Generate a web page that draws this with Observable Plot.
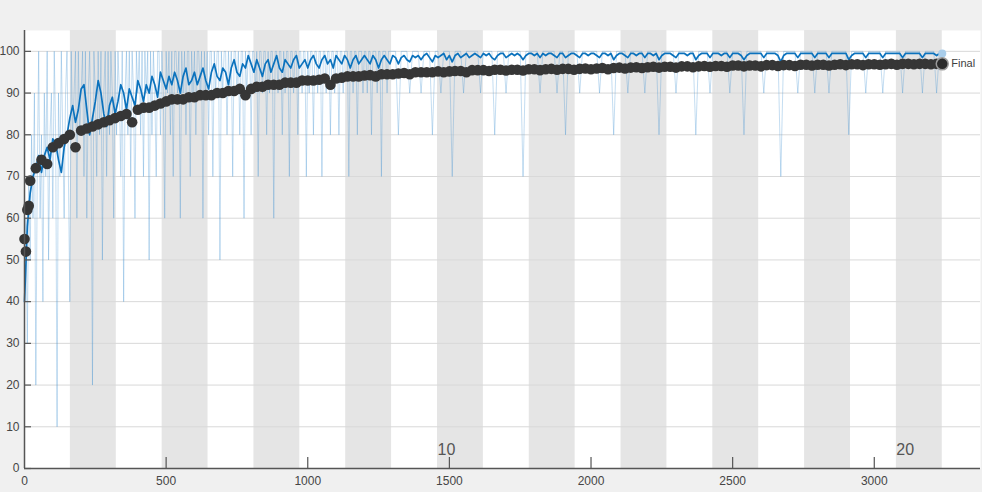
<!DOCTYPE html>
<html><head><meta charset="utf-8">
<script src="https://cdn.jsdelivr.net/npm/d3@7"></script>
<script src="https://cdn.jsdelivr.net/npm/@observablehq/plot@0.6"></script>
<style>
html,body{margin:0;padding:0;background:#f0f0f0;}
#chart{width:982px;height:492px;overflow:hidden;}
</style></head><body><div id="chart"></div>
<script>
// ---- data ----
const itersPerEpoch = 162;
const numEpochs = 20;
const epochLabels = [10, 20];
const xTicks = [0, 500, 1000, 1500, 2000, 2500, 3000];
const yTicks = [0, 10, 20, 30, 40, 50, 60, 70, 80, 90, 100];

// raw mini-batch accuracy, every 5 iterations from 0 to 1295
const rawEarlyStep = 5;
const rawEarly = [
 40,60,30,70,50,80,60,90,20,70,100,60,80,40,90,70,100,50,80,90,
 60,100,80,10,90,70,100,80,60,90,100,70,40,100,80,90,100,60,100,80,
 90,100,70,100,60,90,100,80,20,100,90,70,100,80,100,50,90,100,70,100,
 80,100,90,60,100,80,100,90,70,100,40,90,100,80,100,70,100,90,60,100,
 90,100,80,100,70,100,90,100,50,100,80,100,90,70,100,100,80,100,90,60,
 100,90,100,80,100,70,100,100,90,100,60,100,90,100,80,100,100,70,100,90,
 100,80,100,100,90,100,60,100,90,100,80,100,100,70,100,90,100,100,50,100,
 90,100,100,80,100,90,100,70,100,100,90,100,80,100,100,60,100,90,100,100,
 80,100,100,90,100,70,100,100,90,100,100,80,100,90,100,100,60,100,100,90,
 100,100,80,100,90,100,100,70,100,100,90,100,100,80,100,100,90,100,100,70,
 100,90,100,100,80,100,100,90,100,100,70,100,100,90,100,100,80,100,100,90,
 100,100,80,100,100,90,100,100,100,70,100,100,90,100,100,80,100,100,100,90,
 100,100,90,100,100,80,100,100,100,90,100,100,70,100,100,100,90,100,100,100
];
// raw mini-batch accuracy, every 10 iterations from 1300 to 3240
const rawLateStart = 1300;
const rawLateStep = 10;
const rawLate = [
 100,100,80,100,100,100,90,100,100,100,
 90,100,100,100,80,100,100,90,100,100,100,70,100,100,100,90,100,100,100,100,
 100,90,100,100,100,100,80,100,100,100,90,100,100,100,100,100,70,100,100,100,
 100,100,90,100,100,100,100,100,90,100,100,80,100,100,100,100,90,100,100,100,
 100,100,100,90,100,100,100,100,80,100,100,100,100,90,100,100,100,100,100,90,
 100,100,100,100,80,100,100,100,100,100,90,100,100,100,100,100,100,80,100,100,
 100,100,90,100,100,100,100,100,100,90,100,100,100,100,80,100,100,100,100,100,
 100,90,100,100,100,100,100,70,100,100,100,100,100,90,100,100,100,100,100,90,
 100,100,100,100,90,100,100,100,100,100,100,80,100,100,100,100,100,90,100,100,
 100,100,100,90,100,100,100,100,100,100,90,100,100,100,100,100,100,90,100,100,
 100,100,90,100,100
];

// smoothed training accuracy, every 10 iterations from 0
const smoothStep = 10;
const smoothAcc = [
 40,58,66,70,72,75,71,75,77,74,79,78,74,71,77,80,84,87,83,86,
 91,92,86,80,84,88,93,90,85,82,87,89,85,88,92,90,86,91,89,87,
 93,91,88,92,90,94,92,89,95,93,91,94,92,95,93,90,94,96,92,93,
 95,92,94,96,93,91,95,97,94,93,96,95,92,96,98,95,94,97,96,99,
 97,95,98,96,94,97,98,95,97,99,96,95,98,97,96,98,99,96,97,98,
 96,98,99,97,96,98,99,97,98,96,99,98,97,99,98,96,98,99,97,98,
 99,98,97,99,98,96,98,99,98,97,99,98.5,97,98.5,99,98,97.5,99,98.5,99,
 98,99,99.5,98.5,97.5,99,98.5,99,99.5,98,99,97.5,99,99.5,98.5,99,99.5,98.5,99,99.5,
 99,98.5,99.5,99,99.5,98.5,98,99,99.5,99.5,98.5,99,99.5,99,99.5,99,98,99,99.5,99.5,
 99,99.5,98.5,99.5,99,99.5,99.5,99,98.5,99.5,99.5,98.5,99,99.5,99.5,99,98.5,99.5,99.5,99,
 99.5,99.5,99,98.5,99.5,99.5,99,99.5,98,99,99.5,99.5,99,98.5,99.5,99.5,99,99.5,99.5,98.5,
 99.5,99.5,99,99.5,98,99,99.5,99.5,99.5,99,98.5,99.5,99.5,99.5,99,99.5,99.5,98,99,99.5,
 99.5,99.5,98.5,99.5,99.5,99.5,99,99.5,99.5,98.5,99.5,99.5,99.5,99,98,99,99.5,99.5,99.5,99.5,
 99.5,98.5,99.5,99.5,99.5,99.5,99,97.5,99,99.5,99.5,99.5,99.5,98.5,99.5,99.5,99.5,99.5,99.5,98.5,
 99.5,99.5,99.5,99.5,98.5,99.5,99.5,99.5,99.5,99.5,99.5,98,99,99.5,99.5,99.5,99.5,98.5,99.5,99.5,
 99.5,99.5,99.5,98.5,99.5,99.5,99.5,99.5,99.5,99.5,98.5,99.5,99.5,99.5,99.5,99.5,99.5,98.5,99.5,99.5,
 99.5,99.5,99,99.5,99.5
];

// validation accuracy
const valEarlyIter = [0, 5, 10, 15];
const valEarlyAcc = [55, 52, 62, 63];
const valStep = 20; // from iteration 20
const valAcc = [
 69,72,74,73,77,78,79,80,77,81,
 81.5,82,82.5,83,83.5,84,84.5,85,83,86,
 86.5,86.5,87,87.5,88,88.5,88.5,88.5,89,89,
 89.5,89.5,89.5,90,90,90.5,90.5,91,89.5,91,
 91.5,91.5,92,92,92,92.5,92.5,92.5,93,93,
 93,93.2,93.5,92,93.5,93.7,94,94,94,94.2,
 94.3,94,94.5,94.5,94.5,94.7,94.8,94.5,95,95,
 95,95,95.2,95,95.2,95.3,95.3,95,95.5,95.5,
 95.5,95.3,95.6,95.6,95.4,95.6,95.6,95.4,95.7,95.7,
 95.5,95.7,95.8,95.6,95.8,95.8,95.6,95.8,95.9,95.7,
 95.9,96,95.7,96,96.1,95.9,96.1,96.2,96,96.2,
 96.3,96.1,96.3,96.3,96.1,96.4,96.4,96.2,96.4,96.5,
 96.3,96.5,96.5,96.3,96.6,96.6,96.4,96.6,96.6,96.4,
 96.7,96.7,96.5,96.7,96.7,96.5,96.8,96.8,96.6,96.8,
 96.8,96.6,96.8,96.9,96.7,96.9,96.9,96.7,96.9,96.9,
 96.8,96.9,97,96.8,97,97,96.9,97,97,96.9,
 97,97
];
const finalIter = 3240;
const finalAcc = 97;

// ---- tables built from arrays ----
const raw = rawEarly.map((v, i) => ({iter: i * rawEarlyStep, acc: v}))
  .concat(rawLate.map((v, i) => ({iter: rawLateStart + i * rawLateStep, acc: v})));
const smooth = smoothAcc.map((v, i) => ({iter: i * smoothStep, acc: v}));
const val = valEarlyIter.map((it, i) => ({iter: it, acc: valEarlyAcc[i]}))
  .concat(valAcc.map((v, i) => ({iter: (i + 1) * valStep, acc: v})));
const bands = d3.range(2, numEpochs + 1, 2).map(k => ({x1: (k - 1) * itersPerEpoch, x2: k * itersPerEpoch}));
const labels = epochLabels.map(k => ({iter: (k - 1) * itersPerEpoch, label: String(k)}));
const finalPt = [{iter: finalIter, acc: finalAcc}];
const lastSmooth = [smooth[smooth.length - 1]];

const W = 982, H = 492, mL = 24, mR = 2, mT = 30, mB = 24;
const font = "'Liberation Sans', Arial, Helvetica, sans-serif";
const chart = Plot.plot({
  width: W, height: H,
  marginLeft: mL, marginRight: mR, marginTop: mT, marginBottom: mB,
  style: {background: "#f0f0f0", fontFamily: font, fontSize: "12px", color: "#454545", overflow: "visible"},
  x: {domain: [0, 3375]},
  y: {domain: [0, 105]},
  marks: [
    Plot.frame({fill: "white", stroke: "none"}),
    Plot.rect(bands, {x1: "x1", x2: "x2", fill: "#e5e5e5"}),
    Plot.ruleY(yTicks.slice(1), {stroke: "#d9d9d9", strokeWidth: 1}),
    Plot.line(raw, {x: "iter", y: "acc", stroke: "#3b8fd0", strokeOpacity: 0.3, strokeWidth: 1}),
    Plot.line(smooth, {x: "iter", y: "acc", stroke: "#0b72bd", strokeWidth: 1.7}),
    Plot.dot(lastSmooth, {x: "iter", y: "acc", r: 4, fill: "#a9cdea", stroke: "none"}),
    Plot.dot(val, {x: "iter", y: "acc", r: 5.3, fill: "#363636", stroke: "none"}),
    Plot.dot(finalPt, {x: "iter", y: "acc", r: 6, fill: "#2a2a2a", stroke: "#9a9a9a", strokeWidth: 1.5}),
    Plot.text(finalPt, {x: "iter", y: "acc", text: () => "Final", dx: 9, textAnchor: "start", fontSize: 11, fill: "#404040"}),
    Plot.text(labels, {x: "iter", text: "label", frameAnchor: "bottom", dy: -14, textAnchor: "start", fontSize: 16, fill: "#555"}),
    Plot.ruleX([0], {stroke: "#555", strokeWidth: 1.5}),
    Plot.ruleY([0], {stroke: "#555", strokeWidth: 1.5}),
    Plot.tickY(yTicks, {y: d => d, stroke: "#555", strokeWidth: 1.2, insetRight: W - mL - mR - 7}),
    Plot.tickX(xTicks.slice(1), {x: d => d, stroke: "#555", strokeWidth: 1.2, insetTop: H - mT - mB - 11}),
    Plot.axisY({ticks: yTicks, tickSize: 0, tickPadding: 5, tickFormat: d3.format("d"), label: null}),
    Plot.axisX({ticks: xTicks, tickSize: 0, tickPadding: 8, tickFormat: d3.format("d"), label: null})
  ]
});
document.getElementById("chart").appendChild(chart);
</script>
</body></html>
